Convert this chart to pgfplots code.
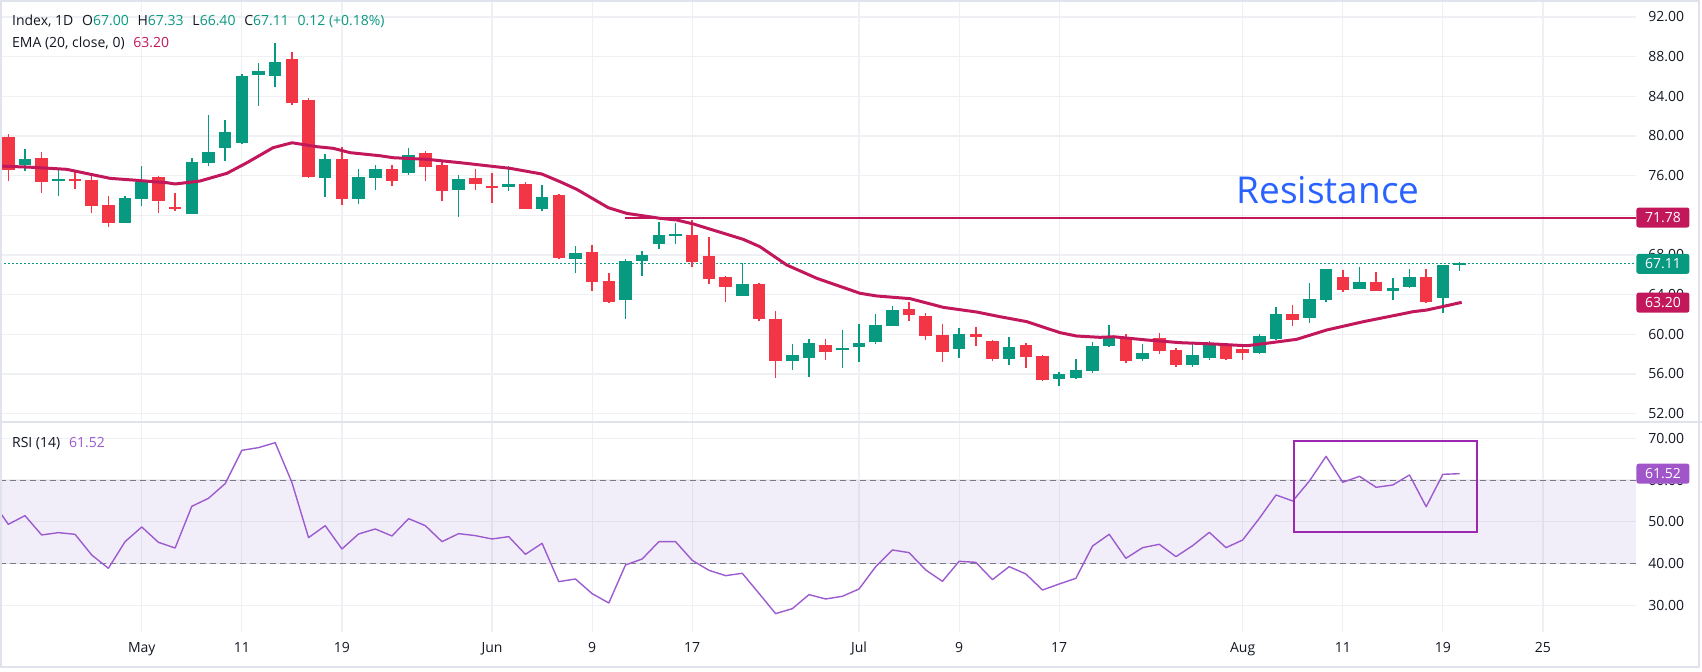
\documentclass[border=0pt]{standalone}
\usepackage{fontspec}
\setmainfont{Open Sans}
\usepackage{pgfplots}
\pgfplotsset{compat=1.18}
\usepackage{pgfplotstable}
\definecolor{cgreen}{HTML}{089981}
\definecolor{cred}{HTML}{F23645}
\definecolor{cema}{HTML}{C2185B}
\definecolor{cgrid}{HTML}{EEF0F4}
\definecolor{ctext}{HTML}{131722}
\definecolor{crsi}{HTML}{9C5BCF}
\definecolor{crsitag}{HTML}{A056C8}
\definecolor{cdash}{HTML}{787B86}
\definecolor{cbox}{HTML}{9C27B0}
\definecolor{cblue}{HTML}{2962FF}
\definecolor{cframe}{HTML}{E0E3EB}

\pgfplotstableread{
i o h l c
1 77.10 78.70 76.50 77.70
3 75.50 76.60 74.00 75.65
7 71.26 73.95 71.20 73.75
8 73.65 76.97 72.97 75.40
11 72.17 77.78 72.10 77.35
12 77.30 82.12 77.00 78.35
13 78.82 81.60 77.50 80.40
14 79.32 86.25 79.16 86.05
15 86.20 87.33 83.06 86.55
16 86.08 89.40 84.97 87.46
19 75.80 78.18 73.88 77.68
21 73.65 76.67 73.18 75.87
22 75.80 77.10 74.55 76.67
24 76.30 78.79 76.10 78.08
27 74.60 76.07 71.86 75.66
30 74.89 76.97 74.48 75.16
32 72.64 75.06 72.47 73.85
34 67.63 68.90 66.20 68.20
37 63.50 67.60 61.58 67.40
38 67.43 68.40 65.91 68.00
39 69.14 71.36 68.64 70.02
40 69.95 71.23 69.14 70.08
44 63.90 67.22 63.90 65.08
47 57.34 59.06 56.44 57.92
48 57.65 59.56 55.73 59.13
50 58.45 60.44 56.64 58.60
51 58.76 61.04 57.24 59.13
52 59.26 62.03 59.06 60.94
53 60.87 62.86 60.80 62.45
57 58.55 60.64 57.65 60.03
60 57.55 59.73 56.94 58.72
63 55.53 56.23 54.82 56.03
64 55.63 57.55 55.53 56.40
65 56.33 59.26 56.13 58.82
66 58.85 60.94 58.75 59.83
68 57.55 59.03 57.30 58.11
71 56.95 59.23 56.70 57.92
72 57.65 59.33 57.41 59.03
75 58.11 60.06 58.02 59.83
76 59.53 62.76 59.43 62.05
78 61.68 65.18 61.17 63.56
79 63.46 66.60 63.30 66.59
81 64.60 66.79 64.60 65.28
83 64.40 65.68 63.50 64.67
84 64.77 66.59 64.67 65.78
86 63.70 67.00 62.19 67.00
87 67.00 67.33 66.40 67.11
}\greentab

\pgfplotstableread{
i o h l c
0 79.93 80.20 75.50 76.57
2 77.78 78.40 74.28 75.39
4 75.60 76.50 74.65 75.45
5 75.56 76.17 72.20 72.97
6 73.04 73.95 70.85 71.26
9 75.87 76.00 72.27 73.45
10 72.85 74.25 72.47 72.70
17 87.76 88.47 83.13 83.36
18 83.63 83.80 75.80 75.90
20 77.68 78.92 73.07 73.68
23 76.67 77.08 74.99 75.50
25 78.29 78.49 75.49 76.90
26 77.08 77.58 73.48 74.49
28 75.77 76.67 74.59 75.19
29 74.93 76.27 73.28 74.78
31 75.16 75.36 72.60 72.67
33 74.05 74.15 67.63 67.73
35 68.30 69.00 64.40 65.31
36 65.38 66.19 63.20 63.29
41 70.02 71.56 66.82 67.33
42 67.90 69.82 65.10 65.61
43 65.78 65.91 63.29 64.80
45 65.08 65.20 61.38 61.55
46 61.55 62.38 55.63 57.34
49 58.93 59.56 57.44 58.25
54 62.55 63.26 61.38 61.95
55 61.85 62.15 59.46 59.86
56 59.93 61.04 57.24 58.25
58 60.03 60.74 58.87 59.76
59 59.33 59.46 57.34 57.55
61 58.93 59.16 56.64 57.75
62 57.82 57.92 55.33 55.43
67 59.63 60.03 57.10 57.30
69 59.63 60.14 58.02 58.35
70 58.42 58.62 56.70 56.95
73 58.93 59.06 57.41 57.55
74 58.52 59.03 57.41 58.11
77 62.05 62.96 60.87 61.48
80 65.78 66.49 64.30 64.50
82 65.28 66.29 64.40 64.40
85 65.78 66.59 63.19 63.29
}\redtab

\pgfplotstableread{
i r
-0.45 52.00
0 49.39
1 51.47
2 46.84
3 47.40
4 47.00
5 42.05
6 38.86
7 45.24
8 48.75
9 45.08
10 43.72
11 53.70
12 55.62
13 59.13
14 67.12
15 67.76
16 68.95
17 59.45
18 46.20
19 49.07
20 43.49
21 47.08
22 48.28
23 46.60
24 50.75
25 49.07
26 45.24
27 47.16
28 46.68
29 45.88
30 46.44
31 42.21
32 44.84
33 35.66
34 36.30
35 32.79
36 30.55
37 39.65
38 41.09
39 45.24
40 45.24
41 40.77
42 38.38
43 37.10
44 37.66
45 32.87
46 28.00
47 29.19
48 32.55
49 31.51
50 32.15
51 33.90
52 39.25
53 43.25
54 42.61
55 38.46
56 35.74
57 40.53
58 40.29
59 36.14
60 39.25
61 37.50
62 33.66
63 35.10
64 36.46
65 44.20
66 47.00
67 41.25
68 43.80
69 44.60
70 41.65
71 44.28
72 47.48
73 43.80
74 45.64
75 50.83
76 56.42
77 54.98
78 59.77
79 65.68
80 59.45
81 60.89
82 58.26
83 58.81
84 61.21
85 53.62
86 61.37
87 61.52
}\rsitab

\pgfplotsset{
  tv/.style={
    scale only axis, width=818pt,
    xmin=-0.4976, xmax=97.58,
    axis line style={draw=none},
    major tick length=0pt,
    xtick={8,14,20,29,35,41,51,57,63,74,80,86,92},
    xmajorgrids, ymajorgrids,
    grid style={draw=cgrid, line width=0.6pt},
    yticklabel pos=right,
    yticklabel style={font=\fontsize{7}{8}\selectfont, text=ctext, anchor=west, xshift=2.6pt},
    yticklabel={\pgfmathprintnumber[fixed, fixed zerofill, precision=2, assume math mode=true]{\tick}},
    clip=false,
  },
  wick/.style={only marks, mark=*, mark size=0pt, mark options={draw=none, fill=none, opacity=0}, forget plot,
    error bars/.cd, y dir=both, y explicit, error mark=none,
    error bar style={line width=0.75pt, draw=#1, solid, opacity=1}},
  body/.style={only marks, mark=*, mark size=0pt, mark options={draw=none, fill=none, opacity=0}, forget plot,
    error bars/.cd, y dir=both, y explicit, error mark=none,
    error bar style={line width=6.25pt, draw=#1, solid, opacity=1}},
}

\begin{document}
\begin{tikzpicture}
\useasboundingbox (0,0) rectangle (851pt,335.5pt);

% ---------- main price panel ----------
\begin{axis}[tv, at={(0pt,125pt)}, anchor=south west, height=210.5pt,
  ymin=51.262, ymax=93.714, ytick={52,56,...,92}, xticklabel=\empty]
\addplot[cgreen, line width=0.6pt, dash pattern=on 1pt off 1pt, forget plot]
  coordinates {(-0.4976,67.11) (97.58,67.11)};
\addplot[wick=cgreen] table[x=i, y expr={(\thisrow{h}+\thisrow{l})/2}, y error expr={(\thisrow{h}-\thisrow{l})/2}] {\greentab};
\addplot[wick=cred] table[x=i, y expr={(\thisrow{h}+\thisrow{l})/2}, y error expr={(\thisrow{h}-\thisrow{l})/2}] {\redtab};
\addplot[body=cgreen] table[x=i, y expr={(\thisrow{o}+\thisrow{c})/2}, y error expr={max(abs(\thisrow{c}-\thisrow{o})/2,0.1)}] {\greentab};
\addplot[body=cred] table[x=i, y expr={(\thisrow{o}+\thisrow{c})/2}, y error expr={max(abs(\thisrow{c}-\thisrow{o})/2,0.1)}] {\redtab};
\addplot[cema, line width=1.5pt, mark=none, line join=round] coordinates {
(-0.50,76.97) (1.50,76.84) (3.50,76.64) (6.10,75.73) (7.48,75.56) (9.51,75.29)
(10.0,75.16) (11.49,75.46) (13.11,76.24) (14.31,77.31) (15.87,78.82) (17.01,79.32)
(18.51,78.92) (19.47,78.76) (20.49,78.32) (22.28,78.01) (23.08,77.81) (25.08,77.65)
(27.08,77.31) (30.08,76.74) (31.98,76.17) (33.08,75.39) (34.08,74.62) (35.97,72.77)
(37.07,72.20) (39.07,71.70) (40.07,71.53) (41.07,71.13) (41.47,70.92) (44.06,69.58)
(45.06,68.84) (46.67,66.99) (48.47,65.65) (51.06,64.14) (52.06,63.87) (54.06,63.60)
(56.06,62.72) (58.06,62.25) (59.45,61.78) (61.06,61.28) (63.05,60.17) (64.05,59.83)
(65.45,59.70) (66.25,59.76) (68.25,59.43) (70.25,59.16) (72.24,59.03) (74.24,58.85)
(75.44,59.10) (77.24,59.50) (79.04,60.44) (81.24,61.28) (83.24,61.95) (84.23,62.29)
(85.03,62.45) (86.23,62.89) (87.13,63.23)};
\addplot[cema, line width=1pt, mark=none] coordinates {(37,71.78) (97.58,71.78)};
\coordinate (tagR) at (axis cs:97.58,71.78);
\coordinate (tagP) at (axis cs:97.58,67.11);
\coordinate (tagE) at (axis cs:97.58,63.20);
\end{axis}

% ---------- RSI panel ----------
\begin{axis}[tv, at={(0pt,19.5pt)}, anchor=south west, height=104.5pt,
  ymin=23.6, ymax=73.66, ytick={30,40,50,60,70},
  xticklabels={May,11,19,Jun,9,17,Jul,9,17,Aug,11,19,25},
  xticklabel style={font=\fontsize{7}{8}\selectfont, text=ctext, anchor=center, yshift=-8.5pt, text height=5pt, text depth=1.2pt}]
\addplot[draw=none, fill={rgb,255:red,126;green,87;blue,194}, fill opacity=0.1, forget plot]
  coordinates {(-0.4976,40) (97.58,40) (97.58,60) (-0.4976,60)};
\addplot[cdash, line width=0.5pt, dash pattern=on 3pt off 2pt, forget plot]
  coordinates {(-0.4976,60) (97.58,60)};
\addplot[cdash, line width=0.5pt, dash pattern=on 3pt off 2pt, forget plot]
  coordinates {(-0.4976,40) (97.58,40)};
\addplot[crsi, line width=0.7pt, mark=none, line join=round] table[x=i, y=r] {\rsitab};
\addplot[cbox, line width=1pt, mark=none, line cap=rect] coordinates
  {(77.06,47.56) (88.07,47.56) (88.07,69.43) (77.06,69.43) (77.06,47.56)};
\coordinate (tagS) at (axis cs:97.58,61.52);
\end{axis}

% ---------- frame and separators ----------
\draw[cframe, line width=1pt] (0.5pt,2pt) rectangle (849.5pt,335pt);
\draw[cframe, line width=1pt] (0pt,124.75pt) -- (851pt,124.75pt);

% ---------- price tags ----------
\tikzset{tag/.style={anchor=west, text=white, inner sep=0pt, minimum width=26.5pt,
  minimum height=10pt, rounded corners=1.2pt, font=\fontsize{7}{8}\selectfont}}
\node[tag, fill=cema] at (tagR) {71.78};
\node[tag, fill=cgreen] at (tagP) {67.11};
\node[tag, fill=cema] at (tagE) {63.20};
\node[tag, fill=crsitag] at (tagS) {61.52};

% ---------- texts ----------
\node[anchor=base west, inner sep=0pt, font=\fontsize{7}{8}\selectfont, text=ctext] at (5.85pt,322.5pt)
 {Index, 1D\hspace{4.4pt}O\textcolor{cgreen}{67.00}\hspace{4.4pt}H\textcolor{cgreen}{67.33}\hspace{4.4pt}L\textcolor{cgreen}{66.40}\hspace{4.4pt}C\textcolor{cgreen}{67.11}\hspace{4.4pt}\textcolor{cgreen}{0.12 (+0.18\%)}};
\node[anchor=base west, inner sep=0pt, font=\fontsize{7}{8}\selectfont, text=ctext] at (5.85pt,311.75pt)
 {EMA (20, close, 0)\hspace{4.4pt}\textcolor{cema}{63.20}};
\node[anchor=base west, inner sep=0pt, font=\fontsize{7}{8}\selectfont, text=ctext] at (5.85pt,112pt)
 {RSI (14)\hspace{4.4pt}\textcolor{crsi}{61.52}};
\node[anchor=base west, inner sep=0pt, font=\fontsize{18.5}{20}\selectfont, text=cblue] at (618pt,233.85pt) {Resistance};
\end{tikzpicture}
\end{document}
